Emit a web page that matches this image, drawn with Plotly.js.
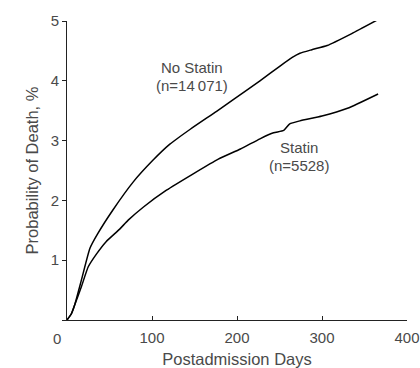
<!DOCTYPE html>
<html>
<head>
<meta charset="utf-8">
<script src="https://cdn.plot.ly/plotly-3.0.1.min.js"></script>
<style>html,body{margin:0;padding:0;background:#fff;}#chart{width:420px;height:368px;}</style>
</head>
<body>
<div id="chart"></div>
<script>
const noStatinDays = [0, 5, 9, 17, 27, 36, 54, 78, 101, 121, 145, 176, 196, 227, 251, 265, 274, 288, 306, 335, 368];
const noStatinProb = [0, 0.1, 0.25, 0.67, 1.2, 1.44, 1.84, 2.31, 2.67, 2.94, 3.19, 3.49, 3.69, 4.0, 4.25, 4.39, 4.46, 4.52, 4.59, 4.79, 5.04];
const statinDays = [0, 5, 9, 17, 25, 35, 46, 62, 72, 90, 117, 148, 178, 204, 227, 243, 255, 262, 274, 300, 330, 366];
const statinProb = [0, 0.1, 0.25, 0.56, 0.89, 1.11, 1.31, 1.52, 1.67, 1.89, 2.17, 2.44, 2.69, 2.86, 3.03, 3.13, 3.17, 3.28, 3.33, 3.41, 3.54, 3.78];
const xTickVals = [0, 100, 200, 300, 400];
const xTickText = ['', '100', '200', '300', '400'];
const yTickVals = [0, 1, 2, 3, 4, 5];
const yTickText = ['', '1', '2', '3', '4', '5'];
const originLabel = '0';
const labelNoStatin = ['No Statin', '(n=14\u2009071)'];
const labelStatin = ['Statin', '(n=5528)'];

const FONT = 'Liberation Sans, Arial, Helvetica, sans-serif';
const TXT = '#4a4a4a';
const LINE = '#222';

const traces = [
  {x: noStatinDays, y: noStatinProb, mode: 'lines', line: {color: '#000', width: 1.5, shape: 'spline', smoothing: 0.5}, hoverinfo: 'skip', showlegend: false},
  {x: statinDays, y: statinProb, mode: 'lines', line: {color: '#000', width: 1.5, shape: 'spline', smoothing: 0.5}, hoverinfo: 'skip', showlegend: false}
];

const ann = (t, x, y) => ({text: t, x: x, y: y, xref: 'x', yref: 'y', showarrow: false, font: {family: FONT, size: 15, color: TXT}, xanchor: 'center', yanchor: 'middle'});

const layout = {
  width: 420, height: 368,
  margin: {l: 67, r: 13, t: 21, b: 48, pad: 0},
  paper_bgcolor: '#fff', plot_bgcolor: '#fff',
  font: {family: FONT, size: 15, color: TXT},
  showlegend: false,
  xaxis: {
    range: [0, 400], showgrid: false, zeroline: false, showline: true, linecolor: LINE, linewidth: 1,
    ticks: 'inside', ticklen: 4, tickcolor: LINE, tickwidth: 1, ticklabelstandoff: 4,
    tickvals: xTickVals, ticktext: xTickText, tickfont: {family: FONT, size: 15, color: TXT},
    automargin: false,
    title: {text: 'Postadmission Days', font: {family: FONT, size: 16.5, color: TXT}, standoff: 8}
  },
  yaxis: {
    range: [0, 5], showgrid: false, zeroline: false, showline: true, linecolor: LINE, linewidth: 1,
    ticks: 'outside', ticklen: 4, tickcolor: LINE, tickwidth: 1,
    tickvals: yTickVals, ticktext: yTickText, tickfont: {family: FONT, size: 15, color: TXT},
    automargin: false,
    title: {text: 'Probability of Death, %', font: {family: FONT, size: 16.5, color: TXT}, standoff: 7}
  },
  annotations: [
    ann(labelNoStatin[0], 146.5, 4.23),
    ann(labelNoStatin[1], 146.5, 3.92),
    ann(labelStatin[0], 273, 2.88),
    ann(labelStatin[1], 273, 2.58),
    {text: originLabel, x: -0.03, y: -0.062, xref: 'paper', yref: 'paper', showarrow: false, font: {family: FONT, size: 15, color: TXT}, xanchor: 'center', yanchor: 'middle'}
  ]
};

Plotly.newPlot('chart', traces, layout, {displayModeBar: false, staticPlot: true});
</script>
</body>
</html>
